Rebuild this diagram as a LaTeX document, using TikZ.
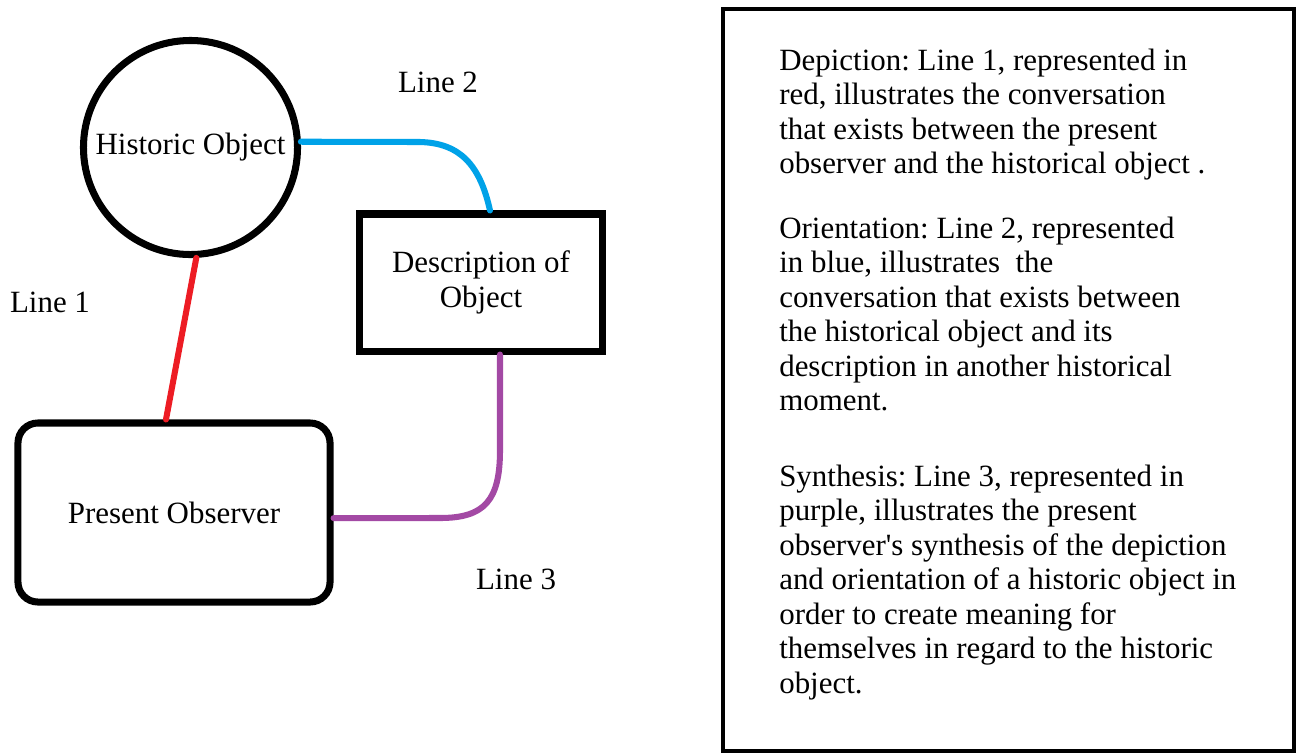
\documentclass[tikz,border=0pt]{standalone}
\usepackage{fontspec}
\setmainfont{Liberation Serif}
\usetikzlibrary{calc,positioning,shapes.geometric}
\definecolor{paintred}{RGB}{237,28,36}
\definecolor{paintblue}{RGB}{0,162,232}
\definecolor{paintpurple}{RGB}{163,73,164}
\frenchspacing
\begin{document}
\begin{tikzpicture}[x=0.025cm,y=-0.025cm,
	every node/.style={font=\fontsize{22}{24.5}\selectfont},
	thing/.style={draw,line width=5pt},
	link/.style={line width=4.3pt,line cap=round},
	para/.style={anchor=base west,align=left,inner sep=0pt}]
	\useasboundingbox (0,0) rectangle (1301,752);
	% the three parts
	\node[thing,circle,inner sep=0pt,minimum size=5.35cm] (hist) at (190.5,147.5) {Historic Object};
	\node[thing,align=center,minimum width=6.05cm,minimum height=3.425cm] (desc) at (481,282.5) {Description of\\Object};
	\node[thing,rounded corners=0.5cm,minimum width=7.8cm,minimum height=4.475cm] (obs) at (174,512.5) {Present Observer};
	\node[anchor=base] (lineone) at (50,312) {Line 1};
	\node[anchor=base] (linetwo) at (438,92) {Line 2};
	\node[anchor=base] (linethree) at (516,589) {Line 3};
	% the three lines
	\draw[link,paintred] (hist.-87) -- ([xshift=-0.2cm]obs.north);
	\draw[link,paintblue] (hist.3) -- (420,142) .. controls (460,143) and (480,165) .. ([xshift=0.225cm]desc.north);
	\draw[link,paintpurple] ([xshift=0.475cm]desc.south) -- (500,450) .. controls (500,500) and (485,518) .. (440,518) -- ([yshift=-0.14cm]obs.east);
	% text panel (base is the last line)
	\draw[line width=2.8pt] (723,9) rectangle (1294,751);
	\node[para] (depict) at (779,173.5) {Depiction: Line 1, represented in\\red, illustrates the conversation\\that exists between the present\\observer and the historical object .};
	\node[para] (orient) at (779,410.5) {Orientation: Line 2, represented\\in blue, illustrates\ \ the\\conversation that exists between\\the historical object and its\\description in another historical\\moment.};
	\node[para] (synth) at (779,693) {Synthesis: Line 3, represented in\\purple, illustrates the present\\observer\textquotesingle s synthesis of the depiction\\and orientation of a historic object in\\order to create meaning for\\themselves in regard to the historic\\object.};
\end{tikzpicture}
\end{document}
